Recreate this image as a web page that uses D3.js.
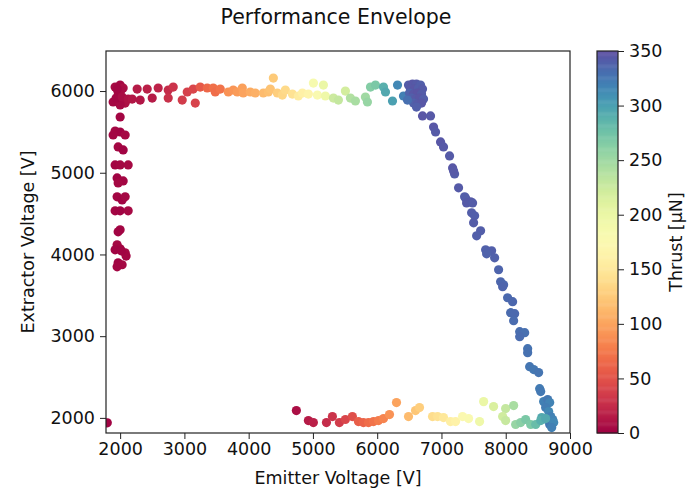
<!DOCTYPE html>
<html>
<head>
<meta charset="utf-8">
<script src="https://cdn.jsdelivr.net/npm/d3@7"></script>
<style>
  body { margin: 0; background: #fff; }
  text { font-family: "DejaVu Sans", sans-serif; fill: #111; }
</style>
</head>
<body>
<div id="chart"></div>
<script>
// emitter voltage [V]
const emitterV = [
  1922, 2000, 2047, 1969, 2016, 1953, 1891, 1969, 2078, 2000, 1938, 2031, 2125, 2187,
  2000, 1922, 2000, 2078, 1891, 1969, 2047, 1922, 2000, 2125, 1953, 2047, 1969,
  1953, 2031, 2078, 1922, 2000, 2125, 2000, 1969, 1953, 2000, 1922, 2078, 2093,
  1969, 2031, 1953, 2016, 1800,
  2265, 2312, 2421, 2499, 2592, 2748, 2748, 2826, 2966, 3044, 3137, 3169, 3246,
  3355, 3449, 3480, 3558, 3683, 3760, 3823, 3901, 3916, 4025, 4103, 4228, 4306,
  4337, 4384, 4446, 4524, 4571, 4680, 4773, 4836, 4929, 5007, 5069, 5163, 5194,
  5319, 5396, 5505, 5583, 5661, 5817, 5848, 5895, 5973, 6098, 6129, 6238, 6316, 6409,
  6487, 6549, 6611, 6674, 6518, 6580, 6643, 6705, 6502, 6565, 6627, 6690, 6534,
  6596, 6658, 6721, 6565, 6627, 6690, 6611, 6471,
  6705, 6830, 6877, 6908, 6986, 7032, 7126, 7173, 7204, 7189, 7266, 7375, 7453,
  7360, 7391, 7484, 7469, 7516, 7500, 7609, 7547, 7687, 7780, 7703, 7827, 7889,
  7920, 7967, 7952, 8029, 8107, 8076, 8139, 8123, 8217, 8295, 8217, 8341, 8341,
  8372, 8435, 8512, 8528, 8544,
  8590, 8653, 8684, 8621, 8668, 8700, 8637, 8731, 8684, 8746, 8715, 8560,
  4742, 4929, 5007, 5210, 5303, 5412, 5505, 5614, 5708, 5786, 5864, 5942, 6020,
  6098, 6191, 6300, 6487, 6596, 6658, 6861, 6939, 7032, 7141, 7219, 7328, 7422,
  7593, 7656, 7811, 7998, 8123, 7952, 7998, 8154, 8232, 8310, 8388, 8466, 8544, 8621
];

// extractor voltage [V]
const extractorV = [
  6049, 6073, 6037, 5988, 6012, 6024, 5866, 5890, 5853, 5829, 5914, 5927, 5902, 5902,
  5682, 5511, 5499, 5462, 5462, 5316, 5279, 5096, 5096, 5096, 4937, 4900, 4876,
  4705, 4668, 4705, 4534, 4534, 4534, 4301, 4277, 4118, 4069, 4057, 4020, 3980,
  3898, 3874, 3849, 4045, 1940,
  6024, 5890, 6024, 5914, 6037, 6012, 5914, 6049, 5890, 5988, 6024, 5853, 6049,
  6037, 6037, 5988, 6024, 5988, 6012, 5988, 6037, 5976, 5988, 5976, 5976, 5988,
  6024, 6159, 5976, 5951, 6012, 5963, 5939, 5976, 5963, 6098, 5951, 6073, 5939,
  5914, 5890, 6000, 5914, 5878, 5927, 5866, 6049, 6073, 6049, 5988, 5878, 6073, 5939,
  6073, 6086, 6086, 6073, 6024, 6024, 6037, 6024, 5976, 5963, 5976, 5963, 5914,
  5902, 5914, 5902, 5853, 5841, 5853, 5804, 5890,
  5695, 5695, 5560, 5499, 5377, 5316, 5206, 5059, 4986, 5020, 4815, 4692, 4644,
  4705, 4631, 4631, 4509, 4473, 4387, 4289, 4228, 4057, 4045, 4008, 3959, 3813,
  3666, 3629, 3605, 3470, 3422, 3287, 3275, 3189, 3055, 3043, 2994, 2847, 2798,
  2627, 2591, 2554, 2358, 2322,
  2199, 2224, 2187, 2126, 2078, 2016, 1980, 1980, 1919, 1943, 1882, 2004,
  2090, 1967, 1943, 1943, 2016, 1943, 1980, 2016, 1955, 1943, 1943, 1955, 1967,
  1992, 2041, 2187, 2016, 2090, 2126, 2016, 2016, 2004, 1955, 1955, 2016, 1992,
  1955, 2199, 2138, 2114, 2151, 2016, 1967, 1919, 1943, 1980, 1919, 1919, 1967, 1992
];

// thrust [uN]
const thrust = [
  6, 4, 8, 5, 7, 3, 4, 6, 9, 5, 3, 7, 10, 12,
  3, 4, 2, 5, 3, 4, 2, 3, 4, 5, 2, 3, 4,
  3, 2, 4, 3, 2, 5, 3, 2, 4, 3, 2, 5, 3,
  2, 4, 3, 2, 2,
  15, 12, 18, 15, 20, 25, 28, 30, 35, 38, 42, 40, 55,
  65, 70, 68, 72, 90, 92, 95, 98, 100, 105, 108, 115, 118,
  120, 125, 128, 135, 138, 145, 155, 160, 165, 185, 180, 200, 195,
  225, 230, 220, 240, 245, 250, 255, 265, 270, 290, 295, 300, 315, 320,
  342, 345, 343, 340, 344, 346, 341, 343, 338, 345, 347, 342, 340,
  344, 346, 341, 339, 343, 345, 340, 330,
  346, 344, 345, 343, 345, 344, 343, 345, 342, 344, 343, 342, 344,
  341, 343, 342, 341, 340, 342, 341, 340, 339, 340, 338, 339, 337,
  336, 335, 337, 334, 335, 333, 334, 332, 331, 330, 332, 328, 329,
  326, 325, 327, 323, 324,
  320, 325, 318, 322, 315, 320, 305, 318, 325, 315, 320, 295,
  8, 15, 18, 25, 30, 35, 42, 48, 58, 62, 68, 72, 78,
  82, 90, 100, 115, 122, 128, 140, 145, 150, 158, 162, 175, 180,
  195, 200, 215, 230, 245, 222, 228, 255, 262, 270, 268, 280, 290, 295
];

const xTicks = [2000, 3000, 4000, 5000, 6000, 7000, 8000, 9000];
const yTicks = [2000, 3000, 4000, 5000, 6000];
const cbTicks = [0, 50, 100, 150, 200, 250, 300, 350];

const width = 689;
const height = 490;
const plot = { left: 106, right: 570, top: 51, bottom: 433 };
const cbar = { left: 597, right: 618 };

const points = emitterV.map((d, i) => ({ x: d, y: extractorV[i], t: thrust[i] }));

const xScale = d3.scaleLinear().domain([1780, 9000]).range([plot.left, plot.right]);
const yScale = d3.scaleLinear().domain([1815, 6490]).range([plot.bottom, plot.top]);
const colourScale = d3.scaleSequential(d3.interpolateSpectral).domain([0, 350]);
const cbScale = d3.scaleLinear().domain([0, 350]).range([plot.bottom, plot.top]);

const svg = d3.select('#chart')
  .append('svg')
    .attr('width', width)
    .attr('height', height);

// title
svg.append('text')
  .attr('x', 336)
  .attr('y', 24)
  .attr('text-anchor', 'middle')
  .style('font-size', '20.5px')
  .text('Performance Envelope');

// scatter points, clipped to the axes box
svg.append('clipPath').attr('id', 'clip')
  .append('rect')
    .attr('x', plot.left).attr('y', plot.top)
    .attr('width', plot.right - plot.left)
    .attr('height', plot.bottom - plot.top);

svg.append('g')
  .attr('clip-path', 'url(#clip)')
  .selectAll('circle')
  .data(points)
  .enter()
    .append('circle')
      .attr('cx', d => xScale(d.x))
      .attr('cy', d => yScale(d.y))
      .attr('r', 4.6)
      .attr('fill', d => colourScale(d.t));

// axes
const xAxis = svg.append('g')
  .attr('transform', `translate(0, ${plot.bottom})`)
  .call(d3.axisBottom(xScale).tickValues(xTicks).tickFormat(d3.format('d')).tickSize(6).tickPadding(4));

const yAxis = svg.append('g')
  .attr('transform', `translate(${plot.left}, 0)`)
  .call(d3.axisLeft(yScale).tickValues(yTicks).tickFormat(d3.format('d')).tickSize(6).tickPadding(5));

[xAxis, yAxis].forEach(ax => {
  ax.select('.domain').remove();
  ax.selectAll('text').style('font-size', '17.5px').style('font-family', '"DejaVu Sans", sans-serif').attr('fill', '#111');
  ax.selectAll('line').attr('stroke', '#222');
});

// frame
svg.append('rect')
  .attr('x', plot.left).attr('y', plot.top)
  .attr('width', plot.right - plot.left)
  .attr('height', plot.bottom - plot.top)
  .attr('fill', 'none')
  .attr('stroke', '#222')
  .attr('stroke-width', 1.2);

// axis labels
svg.append('text')
  .attr('x', (plot.left + plot.right) / 2)
  .attr('y', 484)
  .attr('text-anchor', 'middle')
  .style('font-size', '17.5px')
  .text('Emitter Voltage [V]');

svg.append('text')
  .attr('transform', `translate(34, ${(plot.top + plot.bottom) / 2}) rotate(-90)`)
  .attr('text-anchor', 'middle')
  .style('font-size', '17.5px')
  .text('Extractor Voltage [V]');

// colorbar made of thin slices
const cbSteps = d3.range(0, 350, 1);
svg.append('g')
  .selectAll('rect')
  .data(cbSteps)
  .enter()
    .append('rect')
      .attr('x', cbar.left)
      .attr('y', d => cbScale(d + 1))
      .attr('width', cbar.right - cbar.left)
      .attr('height', d => cbScale(d) - cbScale(d + 1) + 0.5)
      .attr('fill', d => colourScale(d + 0.5));

svg.append('rect')
  .attr('x', cbar.left).attr('y', plot.top)
  .attr('width', cbar.right - cbar.left)
  .attr('height', plot.bottom - plot.top)
  .attr('fill', 'none')
  .attr('stroke', '#222')
  .attr('stroke-width', 1.2);

const cbAxis = svg.append('g')
  .attr('transform', `translate(${cbar.right}, 0)`)
  .call(d3.axisRight(cbScale).tickValues(cbTicks).tickSize(6).tickPadding(5));
cbAxis.select('.domain').remove();
cbAxis.selectAll('text').style('font-size', '17.5px').style('font-family', '"DejaVu Sans", sans-serif').attr('fill', '#111');
cbAxis.selectAll('line').attr('stroke', '#222');

svg.append('text')
  .attr('transform', `translate(682, ${(plot.top + plot.bottom) / 2}) rotate(-90)`)
  .attr('text-anchor', 'middle')
  .style('font-size', '17.5px')
  .text('Thrust [μN]');
</script>
</body>
</html>
